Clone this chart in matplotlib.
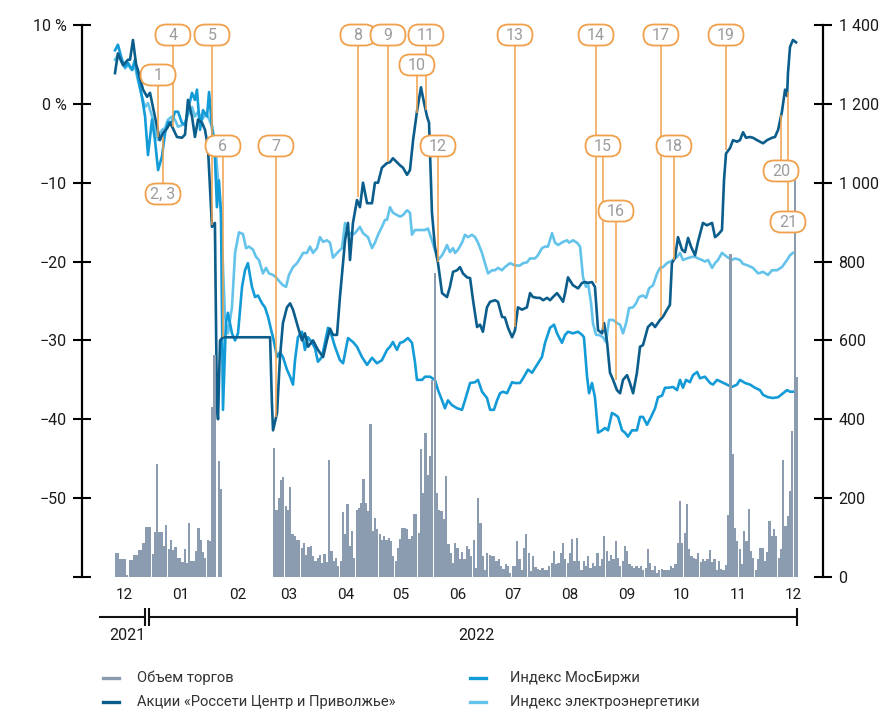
import numpy as np
import pandas as pd
import matplotlib
matplotlib.use("Agg")
import matplotlib.pyplot as plt
import matplotlib.transforms as mtransforms
from matplotlib.patches import FancyBboxPatch
from matplotlib.lines import Line2D

# ---------------- data ----------------
START = pd.Timestamp("2021-12-10")          # day 0 of the series

month_labels = ["12", "01", "02", "03", "04", "05", "06", "07", "08", "09", "10", "11", "12"]
month_dates = ["2021-12-15", "2022-01-15", "2022-02-15", "2022-03-15", "2022-04-15", "2022-05-15",
               "2022-06-15", "2022-07-15", "2022-08-15", "2022-09-15", "2022-10-15", "2022-11-15",
               "2022-12-15"]

left_ticks = [-60, -50, -40, -30, -20, -10, 0, 10]
left_labels = ["", "\u221250", "\u221240", "\u221230", "\u221220", "\u221210", "0 %", "10 %"]
right_ticks = [0, 200, 400, 600, 800, 1000, 1200, 1400]
right_labels = ["0", "200", "400", "600", "800", "1 000", "1 200", "1 400"]

# Stock "Rosseti Centre and Volga", % change (day offset, value)
stock_day = [0, 1.6, 4.4, 7.1, 8.2, 9.8, 11.5, 12.5, 15.3, 17.5,
             19.1, 20.7, 22.9, 24.5, 26.2, 28.4, 30, 31.6, 33.8, 36.5,
             38.2, 39.8, 42, 43.6, 45.3, 47.5, 49.1, 50.7, 52.9, 54.5,
             55.6, 56.2, 57.3, 58.9, 84.6, 85.6, 86.2, 88.4, 90, 91.6,
             93.8, 95.5, 97.1, 99.8, 102, 103.6, 105.3, 108, 110.7, 113.5,
             115.6, 117.3, 118.9, 121.1, 122.7, 125.5, 127.1, 128.2, 129.8, 132,
             133.6, 135.3, 137.5, 140.2, 141.8, 143.5, 145.6, 148.4, 150, 151.6,
             153.8, 155.5, 157.1, 159.3, 160.9, 162.6, 164.7, 166.9, 168.6, 170.2,
             171.3, 172.9, 174.5, 176.2, 178.4, 181.1, 182.7, 184.4, 186.6, 188.2,
             189.8, 192, 193.7, 195.3, 197.5, 199.1, 200.7, 202.9, 204.6, 207.3,
             208.9, 211.1, 212.7, 214.4, 216.6, 218.2, 219.8, 222, 224.7, 226.4,
             228, 230.2, 231.8, 233.5, 235.7, 237.3, 238.9, 241.1, 242.7, 244.4,
             245.5, 247.1, 249.8, 252.6, 254.8, 256.4, 258, 260.2, 261.8, 263.5,
             265.7, 266.8, 268.4, 270, 271.7, 273.8, 275.5, 277.1, 279.3, 280.9,
             282.6, 284.7, 286.4, 288, 290.7, 292.9, 294.6, 297.3, 298.9, 301.1,
             302.7, 303.8, 305.5, 307.1, 309.3, 310.9, 312.6, 314.2, 316.4, 318,
             320.7, 322.9, 325.7, 327.3, 328.9, 331.1, 332.2, 333.3, 335.5, 337.1,
             339.3, 340.9, 342.6, 344.2, 346.4, 348, 350.2, 351.8, 353.5, 355.7,
             358.4, 360, 361.7, 363.8, 365.5, 366.6, 367.1, 368.2, 369.8, 371.5]
stock_pct = [3.9, 6.4, 4.9, 5.6, 5.6, 8.1, 5.0, 4.3, 1.8, 0.9,
             1.4, -0.4, -2.9, -4.6, -3.7, -3.1, -2.4, -3.1, -4.2, -4.3,
             -3.9, 0.5, -1.6, -4.2, -2.0, -2.4, -3.3, -5.5, -15.6, -15.1,
             -38.4, -40.0, -30.0, -29.6, -29.6, -38.0, -41.4, -39.2, -32.1, -27.8,
             -25.8, -25.3, -26.1, -28.3, -30.0, -29.1, -30.8, -30.0, -31.2, -32.1,
             -30.0, -28.5, -29.3, -29.3, -24.5, -17.3, -15.1, -19.8, -15.1, -12.2,
             -13.1, -10.0, -12.6, -12.6, -10.0, -10.0, -8.1, -7.5, -7.4, -6.9,
             -7.4, -7.8, -8.1, -9.0, -8.4, -4.6, -1.0, 2.1, 0.1, -1.6,
             -2.4, -13.8, -18.1, -20.2, -24.0, -24.5, -23.2, -21.3, -21.1, -20.7,
             -21.5, -22.0, -22.1, -24.9, -28.3, -28.0, -28.9, -25.8, -25.1, -24.9,
             -25.1, -27.0, -27.1, -28.4, -29.6, -28.7, -25.8, -26.1, -25.8, -24.0,
             -24.5, -24.6, -24.6, -24.9, -24.6, -24.9, -24.5, -24.0, -24.5, -25.1,
             -24.0, -22.0, -23.0, -23.4, -22.7, -22.6, -22.7, -22.6, -23.2, -28.7,
             -29.1, -27.8, -30.2, -34.1, -35.0, -36.3, -36.7, -35.0, -34.4, -35.4,
             -36.7, -34.1, -30.8, -30.6, -28.3, -27.8, -28.3, -27.4, -27.0, -26.1,
             -25.5, -20.2, -19.5, -16.9, -18.5, -18.8, -17.0, -18.1, -19.2, -17.5,
             -15.1, -15.4, -15.1, -16.9, -16.6, -16.0, -9.7, -6.3, -5.6, -4.6,
             -4.8, -4.6, -3.6, -4.3, -4.2, -4.3, -4.6, -4.8, -5.0, -4.6,
             -4.3, -4.2, -3.3, -1.0, 1.8, 1.0, 3.9, 7.2, 8.1, 7.8]

# MOEX index, % change
moex_day = [0, 1.6, 3.8, 5.5, 7.1, 9.3, 10.9, 12.5, 14.7, 16.4,
            18, 20.2, 21.8, 23.5, 25.6, 27.3, 28.9, 31.1, 32.7, 34.4,
            36.5, 38.2, 39.8, 42, 43.6, 44.7, 46.4, 48, 50.2, 51.3,
            53.5, 54.5, 55.6, 56.7, 57.8, 58.9, 60.5, 61.6, 63.8, 65.5,
            67.1, 69.3, 70.9, 72.5, 74.7, 76.4, 78, 80.2, 81.8, 83.5,
            85.6, 86.2, 88.4, 90, 91.6, 93.8, 95.5, 97.1, 98.2, 99.8,
            102, 103.6, 105.3, 107.5, 109.1, 110.7, 112.9, 114.6, 116.2, 117.3,
            120, 122.7, 124.4, 127.1, 129.8, 132, 134.7, 137.5, 140.2, 142.9,
            145.6, 148.4, 150, 151.6, 153.8, 155.5, 157.1, 159.8, 162, 163.6,
            164.7, 167.5, 169.1, 171.8, 174.5, 176.2, 178.4, 180, 181.6, 183.8,
            186.6, 189.3, 190.9, 193.7, 196.4, 198, 200.2, 202.9, 204.6, 206.7,
            208.4, 210, 211.7, 213.8, 216.6, 218.2, 220.9, 222.6, 225.3, 227.5,
            229.1, 230.7, 232.9, 234.6, 237.3, 239.5, 241.1, 243.8, 245.5, 247.1,
            249.8, 252.6, 254.8, 255.8, 257.5, 258.6, 260.2, 261.8, 263.5, 265.7,
            267.3, 268.9, 271.1, 272.7, 274.4, 276.6, 278.2, 279.8, 282, 284.7,
            286.4, 288, 290.2, 292.4, 294.6, 296.2, 298.4, 300, 301.6, 304.4,
            306.6, 308.2, 309.8, 311.5, 313.6, 315.3, 317.5, 319.1, 321.8, 324.6,
            326.2, 328.4, 331.1, 333.8, 336.5, 339.3, 340.9, 343.7, 346.4, 349.1,
            351.8, 353.5, 356.2, 358.9, 361.7, 364.4, 366.6, 368.2, 369.8]
moex_pct = [6.8, 7.5, 5.6, 4.7, 5.2, 4.3, 5.6, 3.4, 0.9, -1.6,
            -6.5, -2.0, -4.6, -8.4, -6.7, -3.7, -2.3, -2.3, -1.0, -1.0,
            -2.4, -2.7, -0.8, 1.4, 0.5, 1.8, -3.3, -0.8, -1.6, 1.5,
            -4.6, -6.7, -13.1, -9.7, -13.8, -38.8, -27.8, -26.5, -29.1, -30.0,
            -29.1, -23.2, -21.1, -20.2, -23.2, -24.5, -24.3, -25.3, -25.8, -27.0,
            -29.1, -29.6, -32.1, -31.5, -32.1, -33.7, -34.6, -35.6, -32.5, -29.6,
            -28.9, -31.2, -29.6, -30.3, -31.0, -32.7, -32.1, -30.2, -28.4, -28.7,
            -30.8, -32.5, -32.9, -29.7, -30.2, -30.8, -32.1, -33.1, -32.2, -32.9,
            -32.5, -31.2, -30.8, -30.2, -31.2, -30.3, -30.2, -29.7, -30.3, -32.7,
            -35.0, -35.0, -34.6, -34.6, -35.0, -36.3, -37.6, -38.6, -37.6, -38.2,
            -38.6, -38.8, -37.6, -35.4, -35.3, -35.0, -36.5, -37.3, -38.8, -38.8,
            -37.6, -36.7, -36.5, -36.7, -35.3, -35.4, -35.4, -34.8, -33.7, -34.1,
            -33.5, -32.9, -32.1, -30.3, -28.4, -28.0, -29.1, -30.3, -29.3, -28.9,
            -29.1, -28.9, -29.3, -29.6, -34.6, -36.7, -35.4, -37.2, -41.7, -41.4,
            -41.1, -41.4, -39.2, -39.4, -39.7, -41.4, -41.7, -42.2, -41.4, -41.4,
            -39.7, -39.7, -40.7, -39.7, -38.6, -37.2, -37.0, -36.0, -36.0, -35.9,
            -36.3, -35.0, -36.0, -35.0, -35.3, -34.4, -34.0, -34.8, -34.6, -35.4,
            -35.6, -35.0, -35.3, -35.6, -35.9, -35.6, -35.0, -35.4, -35.6, -36.0,
            -36.3, -36.9, -37.2, -37.3, -37.2, -36.7, -36.3, -36.5, -36.5]

# Electric utilities index, % change
elec_day = [0, 1.6, 3.8, 5.5, 7.1, 9.3, 10.9, 12.5, 14.7, 16.4,
            18, 20.2, 21.8, 23.5, 25.6, 27.3, 28.9, 31.1, 32.7, 34.4,
            36.5, 38.2, 39.8, 42, 43.6, 45.3, 47.5, 49.1, 50.7, 52.9,
            54.5, 56.2, 57.8, 58.9, 60, 61.6, 63.8, 65.5, 67.6, 69.8,
            71.5, 73.1, 75.3, 76.9, 78.5, 80.7, 82.4, 84, 86.2, 87.8,
            90, 91.6, 93.3, 94.9, 97.1, 99.3, 100.9, 102.6, 104.7, 106.4,
            108, 110.2, 111.8, 113.5, 115.6, 117.3, 118.9, 121.6, 123.8, 125.5,
            127.1, 129.3, 130.9, 133.6, 135.3, 138, 140.2, 141.8, 143.5, 145.6,
            147.3, 148.4, 150, 151.6, 153.8, 155.5, 157.1, 159.3, 160.9, 162,
            163.6, 166.4, 169.1, 170.7, 172.9, 174.5, 176.2, 178.4, 180, 181.1,
            182.7, 184.4, 185.5, 187.1, 189.3, 190.9, 192.6, 194.7, 196.4, 198,
            200.2, 201.8, 203.5, 205.7, 207.3, 208.9, 211.1, 212.7, 215.5, 218.2,
            220.9, 222.6, 224.7, 226.4, 229.1, 230.7, 232.9, 234.6, 236.2, 238.4,
            240, 241.7, 244.4, 246.6, 247.7, 249.8, 252, 253.7, 255.3, 256.9,
            258, 259.7, 260.7, 262.4, 264, 266.2, 267.8, 269.5, 271.7, 273.8,
            275.5, 277.1, 278.8, 280.4, 282.6, 284.2, 285.8, 288, 289.7, 291.3,
            293.5, 295.7, 297.3, 298.9, 301.1, 302.7, 304.4, 306.6, 308.2, 309.8,
            312, 314.7, 316.4, 318, 320.2, 321.8, 323.5, 325.7, 327.3, 328.9,
            331.1, 333.8, 336.5, 338.2, 340.9, 342.6, 345.3, 348, 350.8, 353.5,
            356.2, 358.4, 361.1, 363.8, 366.6, 368.2, 369.8]
elec_pct = [5.6, 6.2, 5.2, 4.5, 4.9, 4.3, 4.7, 3.0, 0.9, -0.4,
            0.1, -1.6, -3.3, -4.6, -3.3, -3.1, -2.0, -1.6, -2.0, -2.9,
            -2.7, -2.4, -1.4, -0.4, -1.6, -1.0, -2.0, -1.4, -1.6, -2.9,
            -4.6, -9.7, -13.8, -20.7, -27.0, -29.1, -25.8, -18.9, -16.3, -16.5,
            -18.3, -18.1, -18.5, -19.4, -19.8, -21.5, -20.8, -21.5, -21.7, -22.0,
            -22.6, -23.0, -23.2, -21.7, -20.7, -20.2, -19.6, -18.9, -18.9, -18.1,
            -18.9, -18.3, -16.9, -17.5, -17.3, -17.6, -19.5, -18.8, -18.3, -15.1,
            -16.2, -16.6, -16.4, -15.6, -16.4, -16.9, -18.3, -17.6, -16.6, -15.6,
            -14.7, -14.7, -13.1, -13.8, -14.1, -14.3, -14.1, -13.5, -13.8, -16.6,
            -16.0, -16.0, -16.0, -15.8, -17.3, -18.5, -19.8, -19.2, -18.5, -17.9,
            -18.8, -18.3, -18.9, -18.5, -17.6, -16.6, -16.9, -16.6, -16.9, -17.6,
            -18.9, -20.2, -21.5, -21.1, -21.1, -20.8, -21.1, -20.7, -20.2, -20.5,
            -20.5, -20.2, -20.1, -19.6, -19.6, -19.2, -18.3, -18.1, -18.1, -16.4,
            -17.6, -17.9, -17.5, -17.3, -17.6, -17.3, -17.6, -18.1, -22.0, -23.2,
            -22.7, -25.3, -27.8, -29.3, -29.3, -29.6, -30.2, -27.4, -27.4, -27.8,
            -28.0, -29.1, -27.8, -25.9, -25.8, -25.3, -24.5, -24.3, -24.6, -23.4,
            -23.0, -21.5, -20.8, -20.7, -20.2, -20.0, -19.8, -19.4, -18.9, -19.8,
            -19.6, -19.4, -19.4, -19.6, -19.8, -20.0, -19.8, -20.8, -20.2, -19.8,
            -18.9, -19.4, -19.8, -19.6, -19.8, -20.3, -20.5, -20.8, -21.5, -21.3,
            -21.7, -21.1, -21.1, -20.7, -19.8, -19.2, -18.9]

# Trading volume (right axis), one value per session slot, 0 = no trading
volume = [62, 62, 45, 45, 45, 5, 42, 42, 57, 57, 68, 68, 87, 128, 128, 128, 59, 115, 286, 114,
          114, 79, 131, 72, 93, 68, 77, 47, 47, 38, 72, 35, 137, 40, 40, 67, 125, 93, 63, 49,
          94, 91,
          431, 563, 0, 294, 222,
          0, 0, 0, 0, 0, 0, 0, 0, 0, 0, 0, 0, 0, 0, 0, 0, 0, 0, 0, 0, 0, 0,
          328, 171, 200, 245, 253, 180, 170, 227, 108, 104,
          95, 95, 73, 87, 56, 77, 79, 53, 40, 49,
          57, 36, 59, 38, 298, 66, 40, 49, 28, 40,
          166, 108, 184, 79, 117, 49, 171, 176, 188, 248,
          188, 167, 387, 117, 150, 121, 108, 95, 104, 93,
          100, 91, 53, 40, 74, 97, 125, 125, 121, 97,
          104, 161, 161, 112, 324, 214, 366, 258, 307, 500,
          770, 214, 171, 167, 148, 256, 83, 62, 36, 85,
          73, 45, 63, 45, 79, 70, 53, 95, 24, 201,
          138, 53, 19, 62, 55, 53, 53, 40, 45, 28,
          21, 32, 28, 11, 28, 28, 91, 45, 19, 74,
          108, 62, 15, 53, 26, 21, 19, 24, 19, 19,
          28, 36, 66, 32, 36, 62, 87, 45, 36, 62,
          97, 40, 100, 40, 19, 40, 28, 53, 24, 36,
          28, 62, 28, 46, 104, 66, 40, 55, 45, 91,
          49, 28, 40, 79, 66, 32, 28, 24, 28, 24,
          28, 19, 24, 70, 36, 19, 28, 11, 19, 21,
          18, 19, 19, 28, 24, 32, 87, 194, 85, 112,
          184, 70, 53, 49, 45, 62, 38, 45, 40, 45,
          68, 38, 45, 19, 40, 21, 19, 30, 156, 819,
          311, 125, 91, 70, 32, 117, 91, 173, 66, 47,
          19, 46, 74, 74, 40, 63, 142, 104, 121, 104,
          49, 70, 298, 129, 155, 218, 370, 1035, 507]
volume_first_day, volume_last_day = 0.5, 372.0

# Numbered events: label, day offset, stock level the leader line points to
event_labels = ["1", "2, 3", "4", "5", "6", "7", "8", "9", "10", "11",
                "12", "13", "14", "15", "16", "17", "18", "19", "20", "21"]
event_day = [23.5, 26.2, 31.6, 52.9, 58.9, 87.8, 132.5, 148.9, 164.7, 169.6,
             176.2, 218.2, 262.4, 266.2, 273.3, 297.8, 304.9, 333.3, 363.3, 367.1]
event_value = [-4.2, -4.2, -2.9, -15.3, -29.6, -39.7, -11.8, -7.4, -1.2, -0.8,
               -20.1, -28.3, -22.7, -28.7, -35.0, -27.0, -19.8, -5.9, -1.4, 1.5]

# ---------------- layout / style ----------------
box_level = [3.66, -11.43, 8.73, 8.73, -5.34, -5.34, 8.73, 8.73, 4.93, 8.73,
             -5.34, 8.73, 8.73, -5.34, -13.59, 8.73, -5.34, 8.73, -8.51, -14.98]

C_STOCK = "#0b5d8c"
C_MOEX = "#139bd8"
C_ELEC = "#64c3ea"
C_BAR = "#8b9bb0"
C_ORANGE = "#f0a04b"
C_BOXTXT = "#9c9c9c"

TICK_FONT = ["Roboto", "DejaVu Sans"]
NARROW = ["Roboto", "DejaVu Sans"]

W, H = 887, 711
fig = plt.figure(figsize=(W / 100, H / 100), dpi=100)
fig.patch.set_facecolor("white")
ax = fig.add_axes([82 / W, 1 - 577 / H, (823 - 82) / W, 552 / H])
ax.set_xlim(-18.0, 386.2)
ax.set_ylim(-60, 10)
ax.patch.set_alpha(0)

ax.plot(elec_day, elec_pct, color=C_ELEC, lw=1.9, solid_joinstyle="round", zorder=3)
ax.plot(moex_day, moex_pct, color=C_MOEX, lw=1.9, solid_joinstyle="round", zorder=4)
ax.plot(stock_day, stock_pct, color=C_STOCK, lw=1.9, solid_joinstyle="round", zorder=5)

ax2 = ax.twinx()
ax2.set_ylim(0, 1400)
vol_x = np.linspace(volume_first_day, volume_last_day, len(volume))
ax2.bar(vol_x, volume, width=1.2, color=C_BAR, linewidth=0, zorder=2)

# spines
for s in ["top", "bottom", "right"]:
    ax.spines[s].set_visible(False)
for s in ["top", "bottom", "left"]:
    ax2.spines[s].set_visible(False)
ax.spines["left"].set_linewidth(1.6)
ax2.spines["right"].set_linewidth(1.6)

ax.set_yticks(left_ticks)
ax.set_yticklabels(left_labels, fontfamily=TICK_FONT, fontsize=11.5, color="#1a1a1a")
ax.tick_params(axis="y", direction="inout", length=13.5, width=1.5, pad=4)
ax2.set_yticks(right_ticks)
ax2.set_yticklabels(right_labels, fontfamily=TICK_FONT, fontsize=11.5, color="#1a1a1a")
ax2.tick_params(axis="y", direction="inout", length=12.5, width=1.5, pad=5)

month_pos = [(pd.Timestamp(d) - START).days for d in month_dates]
ax.set_xticks(month_pos)
ax.set_xticklabels(month_labels, fontfamily=TICK_FONT, fontsize=11, color="#1a1a1a")
ax.tick_params(axis="x", length=0, pad=8)

# year line under the month labels
yb = mtransforms.blended_transform_factory(ax.transData, ax.transAxes)
def px_day(p):
    return (p - 115) * 0.5455
def px_ax(p):
    return (577 - p) / 552.0
yl = px_ax(617)
kw = dict(color="#111111", lw=1.5, transform=yb, clip_on=False, solid_capstyle="butt")
ax.plot([px_day(99), px_day(145)], [yl, yl], **kw)
ax.plot([px_day(149), px_day(797)], [yl, yl], **kw)
for p in (145, 149, 797):
    ax.plot([px_day(p), px_day(p)], [px_ax(608), px_ax(626)], **kw)
ax.text(px_day(127), px_ax(636), "2021", transform=yb, ha="center", va="center",
        fontfamily=TICK_FONT, fontsize=11.5, color="#1a1a1a")
ax.text(px_day(476), px_ax(636), "2022", transform=yb, ha="center", va="center",
        fontfamily=TICK_FONT, fontsize=11.5, color="#1a1a1a")

# events: leader lines + pill labels
for lab, xd, yv, yb_ in zip(event_labels, event_day, event_value, box_level):
    ax2.plot([xd, xd], [yb_, yv], color=C_ORANGE, lw=1.1, transform=ax.transData,
             zorder=6, solid_capstyle="butt")
for lab, xd, yb_ in zip(event_labels, event_day, box_level):
    tr = fig.dpi_scale_trans + mtransforms.ScaledTranslation(xd, yb_, ax.transData)
    bw, bh = 0.35, 0.21
    patch = FancyBboxPatch((-bw / 2, -bh / 2), bw, bh,
                           boxstyle="round,pad=0,rounding_size=0.105",
                           transform=tr, facecolor="white", edgecolor=C_ORANGE,
                           lw=1.3, zorder=7, clip_on=False)
    ax2.add_patch(patch)
    ax2.text(0, -0.005, lab, transform=tr, ha="center", va="center", fontfamily=NARROW,
             fontsize=11.5, color=C_BOXTXT, zorder=8, clip_on=False)

# legend (manual)
leg = [("Объем торгов", C_BAR, 103, 137, 678),
       ("Акции «Россети Центр и Приволжье»", C_STOCK, 103, 137, 702),
       ("Индекс МосБиржи", C_MOEX, 470, 510, 678),
       ("Индекс электроэнергетики", C_ELEC, 470, 510, 702)]
for txt, col, hx, tx, py in leg:
    fig.add_artist(Line2D([hx / W, (hx + 16) / W], [1 - py / H, 1 - py / H],
                          color=col, lw=2.4, transform=fig.transFigure))
    fig.text(tx / W, 1 - py / H, txt, ha="left", va="center", fontfamily=NARROW,
             fontsize=10.6, color="#333333")

fig.savefig("out.png", dpi=100)
